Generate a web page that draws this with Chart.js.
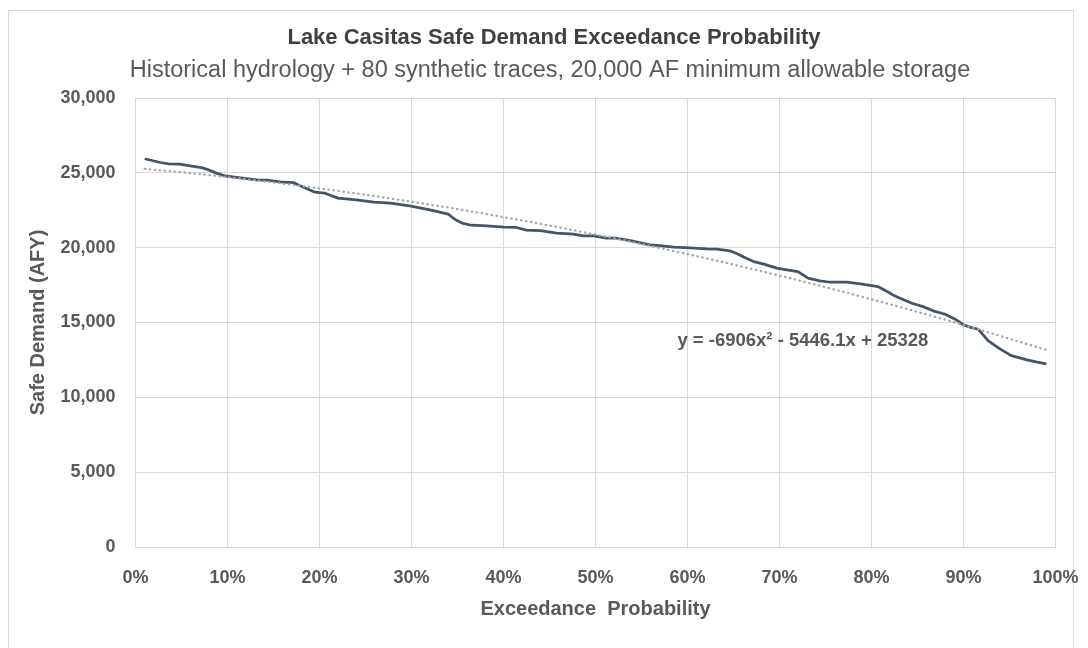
<!DOCTYPE html>
<html>
<head>
<meta charset="utf-8">
<title>Lake Casitas Safe Demand Exceedance Probability</title>
<script src="https://cdn.jsdelivr.net/npm/chart.js@4/dist/chart.umd.min.js"></script>
<style>
  html, body { margin: 0; padding: 0; background: #fff; }
  #wrap { position: relative; width: 1088px; height: 648px; overflow: hidden; }
  #frame { position: absolute; left: 8px; top: 10px; width: 1066px; height: 660px; border: 1px solid #d9d9d9; box-sizing: border-box; }
  canvas { position: absolute; left: 0; top: 0; }
</style>
</head>
<body>
<div id="wrap">
  <div id="frame"></div>
  <canvas id="chart" width="1088" height="648"></canvas>
</div>
<script>
// safe demand curve (x = exceedance %, y = AFY)
const exceedance = [1.0, 2.7, 3.6, 4.8, 6.1, 7.2, 7.7, 8.8, 9.7, 11.4, 13.2, 14.3, 15.7, 17.2, 17.9, 19.5,
  20.6, 22.0, 24.0, 25.9, 27.7, 29.8, 32.0, 34.0, 34.7, 35.5, 36.5, 38.2, 40.0, 41.4, 42.5, 44.0,
  45.8, 47.6, 48.7, 49.8, 51.2, 52.3, 53.8, 55.9, 57.0, 58.5, 60.3, 62.1, 63.2, 64.6, 65.4, 66.1,
  67.2, 68.2, 69.7, 70.8, 72.0, 73.1, 74.4, 75.5, 77.3, 78.8, 80.2, 80.7, 81.7, 82.5, 83.1, 84.4,
  85.6, 86.7, 88.0, 89.1, 90.0, 90.9, 91.6, 92.7, 94.0, 95.2, 96.9, 98.0, 99.0];
const safeDemand = [25940, 25690, 25600, 25580, 25450, 25350, 25250, 24980, 24800, 24670, 24530, 24510, 24400, 24350, 24130, 23710,
  23640, 23310, 23200, 23040, 22970, 22790, 22530, 22240, 21900, 21640, 21500, 21460, 21370, 21350, 21170, 21140,
  20970, 20900, 20790, 20790, 20630, 20630, 20470, 20190, 20140, 20030, 19990, 19920, 19900, 19790, 19590, 19370,
  19070, 18920, 18630, 18520, 18400, 17960, 17780, 17690, 17690, 17580, 17450, 17400, 17070, 16780, 16620, 16290,
  16060, 15780, 15550, 15220, 14840, 14660, 14550, 13770, 13220, 12790, 12500, 12350, 12230];

// polynomial trendline (dotted), values along the fitted curve
const trendX = [1, 10, 20, 30, 40, 50, 60, 70, 80, 90, 99];
const trendY = [25272, 24714, 23963, 23073, 22045, 20878, 19574, 18132, 16551, 14833, 13168];

const trendLabel = 'y = -6906x\u00B2 - 5446.1x + 25328';
const titleText = 'Lake Casitas Safe Demand Exceedance Probability';
const subtitleText = 'Historical hydrology + 80 synthetic traces, 20,000 AF minimum allowable storage';

const FONT = "'Liberation Sans', Arial, sans-serif";
const GRID = '#d9d9d9';
const TEXT = '#595959';

const toPoints = (xs, ys) => xs.map((x, i) => ({x, y: ys[i]}));

// chart title + subtitle (Excel centres them a bit right of the canvas centre)
const titles = {
  id: 'titles',
  beforeDraw(chart) {
    const ctx = chart.ctx;
    ctx.save();
    ctx.textAlign = 'center';
    ctx.textBaseline = 'middle';
    ctx.fillStyle = '#404040';
    ctx.font = `bold 22px ${FONT}`;
    ctx.fillText(titleText, 554, 38);
    ctx.fillStyle = TEXT;
    ctx.font = `23.5px ${FONT}`;
    ctx.fillText(subtitleText, 550, 71);
    ctx.restore();
  }
};

// trendline equation label, placed in data coordinates
const eqLabel = {
  id: 'eqLabel',
  afterDatasetsDraw(chart) {
    const {ctx, scales: {x, y}} = chart;
    ctx.save();
    ctx.font = `bold 18.5px ${FONT}`;
    ctx.fillStyle = TEXT;
    ctx.textBaseline = 'middle';
    ctx.textAlign = 'left';
    ctx.fillText(trendLabel, x.getPixelForValue(58.9), y.getPixelForValue(13780));
    ctx.restore();
  }
};

new Chart(document.getElementById('chart'), {
  type: 'line',
  data: {
    datasets: [
      {
        label: 'Poly. (Safe Demand)',
        data: toPoints(trendX, trendY),
        borderColor: '#a6a6a6',
        borderWidth: 2.25,
        borderDash: [0.5, 4.5],
        borderCapStyle: 'round',
        cubicInterpolationMode: 'monotone',
        pointRadius: 0,
        order: 0
      },
      {
        label: 'Safe Demand',
        data: toPoints(exceedance, safeDemand),
        borderColor: '#44546a',
        borderWidth: 2.75,
        borderJoinStyle: 'round',
        pointRadius: 0,
        tension: 0,
        order: 1
      }
    ]
  },
  options: {
    responsive: false,
    animation: false,
    devicePixelRatio: 1,
    layout: { padding: { top: 98, left: 0, right: 32.5, bottom: 0 } },
    plugins: {
      legend: { display: false },
      tooltip: { enabled: false }
    },
    scales: {
      x: {
        type: 'linear',
        min: 0,
        max: 100,
        afterFit: s => { s.height = 101; },
        ticks: {
          stepSize: 10,
          padding: 4,
          color: TEXT,
          font: { family: FONT, size: 18, weight: 'bold' },
          callback: v => v + '%'
        },
        grid: { color: GRID, lineWidth: 1, drawTicks: true, tickLength: 16, tickColor: 'rgba(0,0,0,0)' },
        border: { color: GRID },
        title: {
          display: true,
          text: 'Exceedance  Probability',
          color: TEXT,
          font: { family: FONT, size: 20, weight: 'bold' },
          padding: { top: 0, bottom: 27 }
        }
      },
      y: {
        min: 0,
        max: 30000,
        afterFit: s => { s.width = 135.5; },
        ticks: {
          stepSize: 5000,
          padding: 20,
          color: TEXT,
          font: { family: FONT, size: 18, weight: 'bold' },
          callback: v => v.toLocaleString('en-US')
        },
        grid: { color: GRID, lineWidth: 1, drawTicks: false },
        border: { color: GRID },
        title: {
          display: true,
          text: 'Safe Demand (AFY)',
          color: TEXT,
          font: { family: FONT, size: 20, weight: 'bold' },
          padding: { top: 26, bottom: 0 }
        }
      }
    }
  },
  plugins: [titles, eqLabel]
});
</script>
</body>
</html>
